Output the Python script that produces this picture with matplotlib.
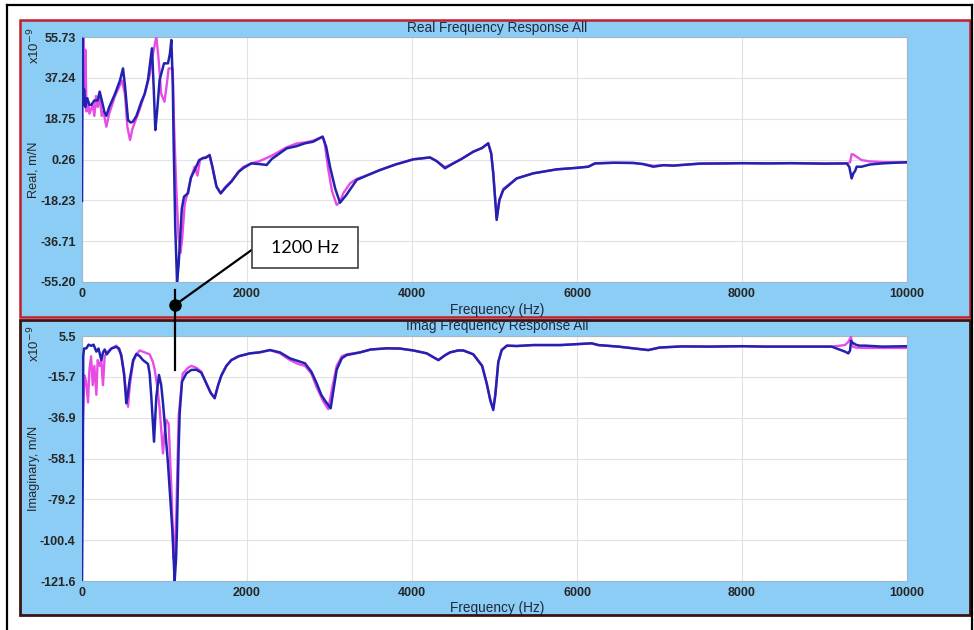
import matplotlib
matplotlib.use("Agg")
import matplotlib.pyplot as plt
from matplotlib.patches import Rectangle
from matplotlib.lines import Line2D

# ---------------- data ----------------
real_blue_f = [0, 8, 15, 25, 40, 60, 90, 113, 150, 190, 214, 240, 270, 295, 330, 400, 460, 497, 520, 558,
               590, 618, 660, 719, 760, 800, 848, 870, 889, 910, 941, 994, 1042, 1065, 1083, 1100, 1111, 1130,
               1152, 1170, 1184, 1210, 1236, 1285, 1320, 1366, 1420, 1467, 1500, 1547, 1580, 1630, 1681, 1740,
               1810, 1900, 1960, 2052, 2150, 2238, 2300, 2481, 2600, 2703, 2800, 2917, 2960, 3006, 3070, 3127,
               3200, 3329, 3450, 3612, 3800, 4016, 4218, 4300, 4400, 4500, 4600, 4743, 4850, 4924, 4960, 4985,
               5026, 5060, 5107, 5269, 5470, 5753, 6000, 6137, 6218, 6450, 6683, 6800, 6925, 7050, 7167, 7490,
               7800, 8000, 8299, 8600, 9000, 9268, 9300, 9329, 9350, 9370, 9390, 9450, 9550, 9700, 9850, 10000]
real_blue_v = [-18.5, 55, 25, 32, 24, 28, 25, 25, 27, 27, 31, 27, 22, 20, 24, 30, 36, 41.5, 34, 18.1,
               17, 17.4, 20, 26.4, 30, 36.3, 50.6, 32, 13.6, 22, 36.3, 43.8, 43.8, 48, 54.4, 35, 7.6, -30,
               -55.1, -48, -39.2, -22, -16.6, -15, -8, -4.5, 0, 0.9, 1, 2.3, -3, -12, -15.1, -12.5,
               -9.8, -5.3, -3.5, -1.5, -1.8, -2.2, 0.5, 5.3, 6.3, 7.6, 8.3, 10.6, 6, -3.0, -13, -19.3,
               -16, -9.0, -7, -4.5, -2, 0.35, 1.2, -0.5, -3.7, -1.5, 0.5, 3.8, 5.5, 7.6, 3, -6.0,
               -27.1, -18, -13.5, -8.3, -6.0, -4.2, -3.5, -3.0, -1.5, -1.2, -1.3, -1.8, -3.0, -2.3, -2.5, -1.6,
               -1.5, -1.4, -1.5, -1.4, -1.6, -1.5, -3, -8.3, -6, -5, -3, -3, -2, -1.5, -1.2, -1.0]

real_mag_f = [10, 20, 30, 40, 55, 70, 90, 130, 150, 170, 190, 214, 240, 260, 295, 330, 400, 485, 520, 550,
              582, 610, 660, 700, 760, 820, 860, 901, 930, 960, 1000, 1030, 1050, 1100, 1115, 1140, 1170,
              1195, 1215, 1245, 1285, 1320, 1366, 1400, 1430, 1467, 1547, 1580, 1630, 1681, 1740, 1810, 1900,
              1960, 2052, 2150, 2300, 2481, 2600, 2703, 2800, 2917, 2940, 2980, 3030, 3087, 3127, 3167, 3250,
              3329, 3450, 3612, 3800, 4016, 4218, 4300, 4400, 4500, 4600, 4743, 4850, 4924, 4960, 4985, 5026,
              5060, 5107, 5269, 5470, 5753, 6000, 6137, 6218, 6450, 6683, 6800, 6925, 7050, 7167, 7490, 7800,
              8000, 8299, 8600, 9000, 9268, 9310, 9329, 9350, 9390, 9450, 9550, 9700, 9850, 10000]
real_mag_v = [40, 55, 30, 50, 22, 28, 21, 25, 20, 29, 24, 28, 20, 22, 15.1, 21, 29, 36, 30, 15,
              9.1, 14, 19, 23, 30, 38.4, 48, 55.9, 45, 30, 26.4, 35, 41.5, 41.5, 17, -10, -35,
              -42, -35, -20, -14, -8, -3, -7, 0, 1, 2, -3, -12, -15, -12, -9.5, -5,
              -3, -1.5, -0.5, 2, 5.8, 7.5, 8, 8.8, 10.6, 8, -3, -14, -20.3, -19, -15, -10.5,
              -8.5, -7, -4.5, -2, 0.35, 1.2, -0.5, -3.2, -1.5, 0.5, 3.8, 5.5, 7.6, 3, -6.0, -26,
              -18, -13, -8.3, -6.0, -4.2, -3.5, -3.0, -1.5, -1.2, -1.3, -1.8, -2.6, -2.3, -2.5, -1.6, -1.5,
              -1.4, -1.5, -1.4, -1.6, -1.5, -1, 2.7, 2.5, 1.5, 0, -0.6, -0.9, -1.0, -1.0]

imag_blue_f = [0, 10, 15, 25, 53, 80, 113, 140, 174, 200, 234, 255, 275, 300, 356, 416, 450, 477, 510, 537,
               555, 578, 620, 659, 700, 739, 800, 820, 840, 873, 890, 901, 933, 960, 982, 1042, 1095, 1123,
               1140, 1151, 1170, 1184, 1212, 1265, 1325, 1386, 1446, 1507, 1560, 1608, 1650, 1689, 1750, 1810,
               1900, 2036, 2150, 2279, 2400, 2521, 2620, 2703, 2780, 2844, 2900, 2945, 3014, 3050, 3087, 3150,
               3208, 3370, 3500, 3693, 3850, 4016, 4178, 4320, 4400, 4461, 4560, 4622, 4743, 4850, 4905, 4950,
               4985, 5010, 5046, 5087, 5150, 5269, 5470, 5800, 6177, 6258, 6500, 6864, 7000, 7268, 7600, 8000,
               8278, 8700, 9086, 9248, 9289, 9310, 9321, 9340, 9380, 9420, 9490, 9700, 10000]
imag_blue_v = [-121.6, -60, -5, -1, -0.9, 1, 0.4, 1, -2.6, -1, -7, -3, -1.5, -4, -1, -0.1, -1, -5, -14, -29.4,
               -25, -17.3, -7, -3.8, -5, -7, -9, -14, -26, -49.3, -35, -26, -14.7, -20, -29.4, -60.5, -95.1, -121.6,
               -110, -95, -55, -34.6, -18.2, -13.9, -12.1, -12, -13.5, -19.1, -24, -26.8, -20, -15, -10, -7,
               -5, -3.5, -3, -1.8, -3, -6.1, -7.5, -8.7, -13, -19.0, -25, -28, -32.0, -22, -12, -6,
               -4.4, -3, -1.5, -0.9, -1, -2, -3.5, -7, -4.5, -3, -2, -2, -4, -10, -19, -28,
               -32.9, -25, -8, -1.8, 0.5, 0.3, 0.8, 0.8, 1.7, 0.8, 0, -1.8, -0.5, 0.1, 0, 0.2,
               0, 0, 0, -2.6, -3.5, -2, 3, 2, 1, 0.5, 0.5, 0, 0.2]

imag_mag_f = [10, 30, 50, 73, 90, 110, 130, 150, 174, 190, 215, 234, 254, 275, 300, 356, 416, 477, 520, 558,
              580, 620, 659, 700, 760, 820, 860, 881, 910, 941, 982, 1000, 1022, 1050, 1083, 1111, 1130, 1144,
              1172, 1221, 1285, 1325, 1386, 1446, 1507, 1560, 1608, 1650, 1689, 1750, 1810, 1900, 2036, 2150,
              2279, 2400, 2521, 2620, 2703, 2780, 2844, 2920, 2985, 3030, 3087, 3150, 3208, 3370, 3500, 3693,
              3850, 4016, 4178, 4320, 4400, 4461, 4560, 4622, 4743, 4850, 4905, 4950, 4985, 5010, 5046, 5087,
              5150, 5269, 5470, 5800, 6177, 6258, 6500, 6864, 7000, 7268, 7600, 8000, 8278, 8700, 9086, 9248,
              9289, 9321, 9340, 9380, 9490, 9700, 10000]
imag_mag_v = [-40, -15, -18, -29, -12, -5, -20, -10, -25, -7, -10, -7, -20, -5, -3, -1, 0.5, -4, -18, -31.2,
              -20, -8, -4, -2, -3, -4, -8, -12, -20, -32, -55.4, -45, -38, -40, -73, -110, -100, -85,
              -36, -14, -11, -10, -11, -13, -19, -24, -26.5, -20, -15, -10, -7, -5, -3.5, -3,
              -1.8, -3.5, -7, -9, -10, -14, -21, -28, -32.5, -22, -10, -5, -4, -3, -1.5, -0.9,
              -1, -2, -3.5, -7, -4.5, -3, -2, -2, -4, -10, -19, -28, -32, -25, -8, -1.8,
              0.5, 0.3, 0.8, 0.8, 1.7, 0.8, 0, -1.8, -0.5, 0.1, 0, 0.2, 0, 0, 0, 0.8,
              2.5, 5.2, 0, -0.5, -0.7, -0.7, -0.7]

x_ticks = [0, 2000, 4000, 6000, 8000, 10000]
real_yticks = [55.73, 37.24, 18.75, 0.26, -18.23, -36.71, -55.20]
real_yticklabels = ["55.73", "37.24", "18.75", "0.26", "-18.23", "-36.71", "-55.20"]
imag_yticks = [5.5, -15.7, -36.9, -58.1, -79.2, -100.4, -121.6]
imag_yticklabels = ["5.5", "-15.7", "-36.9", "-58.1", "-79.2", "-100.4", "-121.6"]

# ---------------- style ----------------
W, H = 974, 630
BLUE = "#2222b0"
MAGENTA = "#e64ce6"
PANEL = "#8ccdf5"
TICKFONT = ["Liberation Sans Narrow", "Liberation Sans", "DejaVu Sans"]
TXTFONT = ["Liberation Sans", "DejaVu Sans"]


def fx(px):
    return px / W


def fy(py):
    return 1 - py / H


fig = plt.figure(figsize=(W / 100, H / 100), dpi=100)
fig.patch.set_facecolor("white")

# panels
fig.add_artist(Rectangle((fx(20), fy(317)), fx(950), 297 / H, transform=fig.transFigure,
                         facecolor=PANEL, edgecolor="#c41e2a", linewidth=1.8, zorder=0))
fig.add_artist(Rectangle((fx(20), fy(615)), fx(950), 295 / H, transform=fig.transFigure,
                         facecolor=PANEL, edgecolor="#3a1414", linewidth=2.0, zorder=0))

# outer black frame
for (x0, y0, x1, y1) in [(7, 5, 7, 640), (7, 5, 972, 5), (972, 5, 972, 640)]:
    fig.add_artist(Line2D([fx(x0), fx(x1)], [fy(y0), fy(y1)], transform=fig.transFigure,
                          color="black", linewidth=1.6, zorder=1))

ax1 = fig.add_axes([fx(82), fy(282), fx(825), 245 / H])
ax2 = fig.add_axes([fx(82), fy(581), fx(825), 245 / H])

panels = [
    (ax1, real_mag_f, real_mag_v, real_blue_f, real_blue_v, real_yticks, real_yticklabels,
     "Real Frequency Response All", "Real, m/N", 0),
    (ax2, imag_mag_f, imag_mag_v, imag_blue_f, imag_blue_v, imag_yticks, imag_yticklabels,
     "Imag Frequency Response All", "Imaginary, m/N", 298),
]

for ax, mf, mv, bf, bv, yt, ytl, title, ylab, off in panels:
    ax.set_facecolor("white")
    ax.plot(mf, mv, color=MAGENTA, linewidth=1.7, zorder=3)
    ax.plot(bf, bv, color=BLUE, linewidth=1.8, zorder=4)
    ax.set_xlim(0, 10000)
    ax.set_ylim(min(yt), max(yt))
    ax.set_xticks(x_ticks)
    ax.set_xticklabels([str(t) for t in x_ticks])
    ax.set_yticks(yt)
    ax.set_yticklabels(ytl)
    ax.grid(True, color="#e2e2e2", linewidth=0.8, zorder=0)
    ax.tick_params(length=0, pad=4.5, labelsize=9, labelcolor="#262626")
    for lab in ax.get_xticklabels() + ax.get_yticklabels():
        lab.set_family(TICKFONT)
        lab.set_fontweight("bold")
    for s in ax.spines.values():
        s.set_color("#9fb8c8")
        s.set_linewidth(0.8)
    fig.text(fx(497), fy(28 + off), title, ha="center", va="center", fontsize=9.8,
             family=TXTFONT, color="#1e2a3a")
    fig.text(fx(497), fy(310 + off), "Frequency (Hz)", ha="center", va="center", fontsize=9.8,
             family=TICKFONT, color="#1e2a3a")
    fig.text(fx(34), fy(46 + off), r"x10$^{-9}$", ha="center", va="center", rotation=90,
             fontsize=9.5, family=TXTFONT, color="#262626")
    fig.text(fx(34), fy((170 if off == 0 else 170) + off), ylab, ha="center", va="center",
             rotation=90, fontsize=9.2, family=TXTFONT, color="#262626")

# annotation
fig.add_artist(Line2D([fx(175), fx(175)], [fy(290), fy(370)], transform=fig.transFigure,
                      color="black", linewidth=1.6, zorder=10))
fig.add_artist(Line2D([fx(175), fx(253)], [fy(305), fy(249)], transform=fig.transFigure,
                      color="black", linewidth=1.6, zorder=10))
fig.add_artist(Line2D([fx(175)], [fy(305)], transform=fig.transFigure, marker="o", markersize=8,
                      color="black", zorder=11))
fig.add_artist(Rectangle((fx(252), fy(268)), fx(106), 41 / H, transform=fig.transFigure,
                         facecolor="white", edgecolor="#404040", linewidth=1.2, zorder=10))
fig.text(fx(305), fy(248), "1200 Hz", ha="center", va="center", fontsize=13,
         family=["Lato", "DejaVu Sans"], color="black", zorder=12)

fig.savefig("out.png", dpi=100)
